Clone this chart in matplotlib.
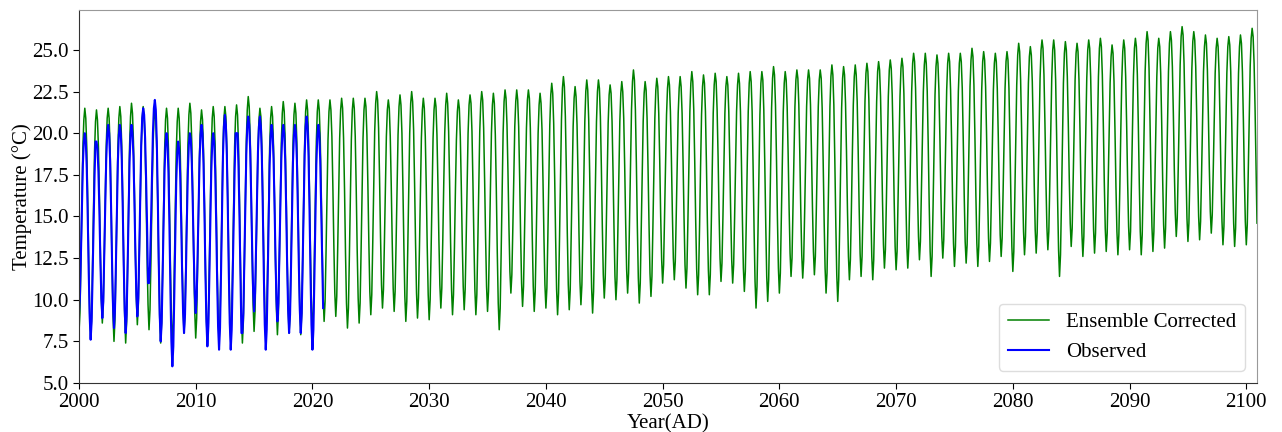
import numpy as np
import matplotlib
matplotlib.use("Agg")
import matplotlib.pyplot as plt

# Monthly mean temperature (degC), one row per year, Jan..Dec.
ensemble_2000s = [
    [8.0, 9.2, 12.3, 15.8, 19.1, 20.8, 21.5, 20.9, 19.2, 16.0, 12.3, 9.2],
    [7.7, 8.9, 12.1, 15.6, 18.9, 20.7, 21.4, 20.8, 19.2, 16.3, 12.8, 10.0],
    [8.6, 9.8, 12.7, 16.1, 19.2, 20.9, 21.5, 20.9, 19.1, 15.9, 12.1, 9.0],
    [7.5, 8.8, 12.0, 15.7, 19.1, 20.9, 21.6, 21.0, 19.2, 15.9, 12.1, 9.0],
    [7.4, 8.7, 12.0, 15.7, 19.2, 21.0, 21.8, 21.2, 19.5, 16.5, 12.9, 10.0],
    [8.5, 9.7, 12.7, 16.1, 19.2, 20.9, 21.6, 21.0, 19.3, 16.2, 12.6, 9.7],
    [8.2, 9.4, 12.4, 15.9, 19.0, 20.7, 21.4, 20.8, 19.0, 15.8, 12.0, 8.9],
    [7.4, 8.7, 11.9, 15.6, 18.9, 20.8, 21.5, 20.9, 19.0, 15.8, 12.0, 8.9],
    [7.3, 8.6, 11.8, 15.5, 18.9, 20.7, 21.5, 20.9, 19.2, 16.1, 12.4, 9.5],
    [8.0, 9.2, 12.4, 16.0, 19.3, 21.1, 21.8, 21.2, 19.4, 16.2, 12.4, 9.3],
]
ensemble_2010s = [
    [7.7, 8.9, 12.1, 15.6, 18.9, 20.7, 21.4, 20.8, 19.0, 15.8, 12.0, 8.9],
    [7.3, 8.6, 11.9, 15.6, 19.0, 20.9, 21.6, 21.0, 19.2, 16.0, 12.2, 9.1],
    [7.5, 8.8, 12.0, 15.7, 19.1, 20.9, 21.6, 21.0, 19.2, 16.0, 12.2, 9.1],
    [7.6, 8.9, 12.1, 15.8, 19.2, 21.0, 21.7, 21.1, 19.3, 16.0, 12.1, 9.0],
    [7.4, 8.7, 12.1, 16.0, 19.5, 21.4, 22.2, 21.6, 19.8, 16.5, 12.7, 9.7],
    [8.1, 9.3, 12.4, 15.9, 19.1, 20.8, 21.5, 21.0, 19.2, 16.0, 12.3, 9.3],
    [7.8, 9.0, 12.2, 15.8, 19.1, 20.9, 21.6, 21.0, 19.2, 16.1, 12.4, 9.4],
    [7.9, 9.2, 12.4, 16.0, 19.4, 21.2, 21.9, 21.3, 19.5, 16.3, 12.6, 9.5],
    [8.0, 9.2, 12.4, 16.0, 19.3, 21.1, 21.8, 21.2, 19.4, 16.2, 12.5, 9.4],
    [7.9, 9.2, 12.4, 16.1, 19.4, 21.3, 22.0, 21.4, 19.6, 16.4, 12.7, 9.6],
]
ensemble_2020s = [
    [8.1, 9.3, 12.5, 16.1, 19.5, 21.3, 22.0, 21.4, 19.7, 16.7, 13.1, 10.2],
    [8.7, 9.9, 12.9, 16.4, 19.6, 21.3, 22.0, 21.4, 19.8, 16.8, 13.3, 10.4],
    [9.0, 10.2, 13.2, 16.6, 19.7, 21.4, 22.1, 21.5, 19.7, 16.6, 12.8, 9.8],
    [8.3, 9.5, 12.7, 16.3, 19.6, 21.4, 22.1, 21.5, 19.8, 16.7, 13.0, 10.1],
    [8.6, 9.8, 12.9, 16.4, 19.7, 21.4, 22.1, 21.6, 19.9, 16.9, 13.4, 10.5],
    [9.1, 10.3, 13.4, 16.9, 20.1, 21.8, 22.5, 22.0, 20.3, 17.3, 13.8, 10.9],
    [9.5, 10.6, 13.5, 16.8, 19.8, 21.4, 22.0, 21.5, 19.8, 16.9, 13.5, 10.7],
    [9.3, 10.5, 13.4, 16.8, 19.9, 21.6, 22.3, 21.7, 20.0, 16.8, 13.2, 10.2],
    [8.7, 9.9, 13.1, 16.7, 20.0, 21.8, 22.5, 21.9, 20.2, 17.0, 13.4, 10.4],
    [8.9, 10.1, 13.1, 16.5, 19.7, 21.4, 22.1, 21.5, 19.8, 16.8, 13.2, 10.3],
]
ensemble_2030s = [
    [8.8, 10.0, 13.0, 16.5, 19.7, 21.4, 22.1, 21.6, 19.9, 17.0, 13.6, 10.9],
    [9.5, 10.7, 13.6, 17.0, 20.0, 21.7, 22.4, 21.8, 20.1, 17.1, 13.5, 10.6],
    [9.1, 10.3, 13.2, 16.6, 19.6, 21.3, 22.0, 21.5, 19.8, 16.9, 13.5, 10.8],
    [9.4, 10.6, 13.5, 16.9, 20.0, 21.7, 22.3, 21.8, 20.1, 17.0, 13.5, 10.6],
    [9.1, 10.3, 13.4, 16.9, 20.1, 21.8, 22.5, 22.0, 20.3, 17.2, 13.7, 10.8],
    [9.3, 10.5, 13.5, 16.9, 20.0, 21.7, 22.4, 21.8, 19.9, 16.7, 12.9, 9.8],
    [8.2, 9.5, 12.8, 16.6, 20.0, 21.9, 22.6, 22.1, 20.5, 17.7, 14.4, 11.7],
    [10.4, 11.5, 14.3, 17.5, 20.4, 21.9, 22.6, 22.0, 20.4, 17.4, 13.9, 11.0],
    [9.6, 10.8, 13.8, 17.1, 20.3, 22.0, 22.6, 22.1, 20.3, 17.3, 13.7, 10.8],
    [9.3, 10.5, 13.5, 16.9, 20.0, 21.7, 22.4, 21.8, 20.2, 17.2, 13.7, 10.9],
]
ensemble_2040s = [
    [9.5, 10.7, 13.8, 17.3, 20.5, 22.3, 23.0, 22.4, 20.6, 17.4, 13.7, 10.6],
    [9.1, 10.4, 13.7, 17.4, 20.8, 22.7, 23.4, 22.8, 21.0, 17.8, 14.0, 10.9],
    [9.4, 10.6, 13.7, 17.1, 20.4, 22.1, 22.8, 22.2, 20.5, 17.5, 14.0, 11.1],
    [9.7, 10.9, 14.0, 17.5, 20.7, 22.5, 23.2, 22.6, 20.8, 17.6, 13.8, 10.7],
    [9.2, 10.5, 13.7, 17.3, 20.7, 22.5, 23.2, 22.7, 21.0, 18.0, 14.4, 11.5],
    [10.1, 11.3, 14.2, 17.5, 20.6, 22.3, 22.9, 22.4, 20.7, 17.7, 14.3, 11.4],
    [10.0, 11.2, 14.2, 17.6, 20.7, 22.4, 23.1, 22.5, 20.9, 18.0, 14.6, 11.8],
    [10.4, 11.6, 14.7, 18.1, 21.4, 23.1, 23.8, 23.2, 21.4, 18.2, 14.4, 11.3],
    [9.8, 11.0, 14.1, 17.5, 20.7, 22.4, 23.1, 22.6, 20.9, 17.9, 14.5, 11.6],
    [10.2, 11.4, 14.4, 17.8, 20.9, 22.6, 23.3, 22.8, 21.2, 18.4, 15.0, 12.4],
]
ensemble_2050s = [
    [11.0, 12.1, 15.0, 18.2, 21.1, 22.7, 23.4, 22.9, 21.3, 18.5, 15.2, 12.5],
    [11.2, 12.3, 15.1, 18.3, 21.2, 22.7, 23.4, 22.8, 21.2, 18.3, 14.9, 12.1],
    [10.7, 11.9, 14.8, 18.2, 21.3, 23.0, 23.7, 23.1, 21.4, 18.3, 14.7, 11.8],
    [10.3, 11.5, 14.5, 18.0, 21.1, 22.8, 23.5, 23.0, 21.3, 18.2, 14.7, 11.8],
    [10.3, 11.5, 14.5, 18.0, 21.2, 22.9, 23.6, 23.1, 21.4, 18.6, 15.2, 12.5],
    [11.1, 12.2, 15.0, 18.2, 21.2, 22.8, 23.4, 22.9, 21.3, 18.4, 15.1, 12.4],
    [11.0, 12.1, 15.0, 18.3, 21.3, 22.9, 23.6, 23.0, 21.3, 18.3, 14.8, 11.9],
    [10.5, 11.7, 14.7, 18.2, 21.3, 23.0, 23.7, 23.1, 21.3, 18.0, 14.2, 11.1],
    [9.5, 10.8, 14.0, 17.7, 21.1, 23.0, 23.7, 23.2, 21.4, 18.2, 14.5, 11.4],
    [9.9, 11.2, 14.4, 18.1, 21.5, 23.3, 24.0, 23.5, 21.7, 18.6, 14.9, 11.9],
]
ensemble_2060s = [
    [10.4, 11.6, 14.7, 18.1, 21.3, 23.0, 23.7, 23.2, 21.6, 18.8, 15.5, 12.8],
    [11.4, 12.5, 15.4, 18.6, 21.6, 23.2, 23.8, 23.3, 21.7, 18.8, 15.4, 12.7],
    [11.3, 12.4, 15.3, 18.6, 21.6, 23.2, 23.8, 23.3, 21.7, 18.9, 15.6, 12.9],
    [11.5, 12.6, 15.4, 18.6, 21.6, 23.2, 23.8, 23.3, 21.5, 18.4, 14.8, 11.9],
    [10.4, 11.6, 14.8, 18.4, 21.6, 23.4, 24.1, 23.5, 21.7, 18.4, 14.6, 11.5],
    [9.9, 11.2, 14.4, 18.1, 21.5, 23.3, 24.0, 23.5, 21.8, 18.9, 15.4, 12.6],
    [11.2, 12.4, 15.3, 18.7, 21.7, 23.4, 24.1, 23.5, 21.9, 19.0, 15.6, 12.8],
    [11.4, 12.6, 15.5, 18.8, 21.9, 23.6, 24.2, 23.7, 22.0, 19.0, 15.5, 12.6],
    [11.2, 12.4, 15.4, 18.8, 21.9, 23.7, 24.3, 23.8, 22.2, 19.3, 16.0, 13.3],
    [11.9, 13.0, 15.9, 19.2, 22.2, 23.8, 24.4, 23.9, 22.3, 19.4, 16.0, 13.2],
]
ensemble_2070s = [
    [11.8, 12.9, 15.9, 19.2, 22.2, 23.9, 24.5, 24.0, 22.4, 19.5, 16.1, 13.3],
    [11.9, 13.1, 16.0, 19.4, 22.5, 24.2, 24.8, 24.3, 22.7, 19.8, 16.5, 13.8],
    [12.4, 13.5, 16.4, 19.6, 22.5, 24.1, 24.8, 24.2, 22.5, 19.4, 15.8, 12.9],
    [11.4, 12.6, 15.6, 19.1, 22.3, 24.0, 24.7, 24.2, 22.6, 19.8, 16.5, 13.8],
    [12.5, 13.6, 16.4, 19.6, 22.6, 24.2, 24.8, 24.3, 22.6, 19.7, 16.2, 13.4],
    [12.0, 13.2, 16.1, 19.4, 22.5, 24.2, 24.8, 24.3, 22.7, 19.7, 16.3, 13.5],
    [12.2, 13.3, 16.3, 19.7, 22.8, 24.4, 25.1, 24.6, 22.9, 19.9, 16.3, 13.4],
    [12.0, 13.2, 16.1, 19.5, 22.6, 24.3, 24.9, 24.4, 22.8, 19.9, 16.5, 13.7],
    [12.3, 13.4, 16.3, 19.6, 22.6, 24.2, 24.8, 24.3, 22.7, 19.9, 16.6, 13.9],
    [12.6, 13.7, 16.5, 19.7, 22.7, 24.3, 24.9, 24.4, 22.7, 19.6, 16.1, 13.2],
]
ensemble_2080s = [
    [11.7, 12.9, 16.1, 19.7, 22.9, 24.7, 25.4, 24.9, 23.2, 20.3, 16.9, 14.1],
    [12.7, 13.8, 16.7, 20.0, 23.0, 24.6, 25.2, 24.7, 23.1, 20.2, 16.9, 14.2],
    [12.8, 14.0, 16.9, 20.2, 23.3, 25.0, 25.6, 25.1, 23.5, 20.6, 17.2, 14.4],
    [13.0, 14.1, 17.0, 20.3, 23.3, 25.0, 25.6, 25.0, 23.2, 19.9, 16.1, 13.0],
    [11.4, 12.7, 15.9, 19.6, 23.0, 24.8, 25.5, 25.0, 23.4, 20.6, 17.3, 14.6],
    [13.2, 14.3, 17.1, 20.3, 23.2, 24.8, 25.4, 24.9, 23.2, 20.3, 16.8, 14.0],
    [12.6, 13.8, 16.8, 20.1, 23.3, 25.0, 25.6, 25.1, 23.4, 20.5, 17.0, 14.2],
    [12.8, 14.0, 16.9, 20.3, 23.4, 25.1, 25.7, 25.2, 23.5, 20.6, 17.1, 14.3],
    [12.9, 14.0, 16.9, 20.1, 23.0, 24.6, 25.3, 24.8, 23.1, 20.2, 16.8, 14.1],
    [12.7, 13.9, 16.8, 20.2, 23.2, 24.9, 25.6, 25.1, 23.4, 20.5, 17.1, 14.4],
]
ensemble_2090s = [
    [13.0, 14.1, 17.1, 20.4, 23.4, 25.1, 25.7, 25.2, 23.5, 20.5, 17.0, 14.1],
    [12.7, 13.9, 17.0, 20.5, 23.7, 25.4, 26.1, 25.6, 23.9, 20.8, 17.3, 14.4],
    [12.9, 14.1, 17.0, 20.3, 23.4, 25.1, 25.7, 25.2, 23.6, 20.7, 17.3, 14.5],
    [13.1, 14.3, 17.2, 20.6, 23.7, 25.4, 26.1, 25.6, 24.0, 21.2, 17.8, 15.2],
    [13.8, 14.9, 17.8, 21.1, 24.1, 25.8, 26.4, 25.9, 24.2, 21.2, 17.8, 14.9],
    [13.5, 14.6, 17.5, 20.8, 23.8, 25.5, 26.1, 25.6, 24.0, 21.1, 17.7, 15.0],
    [13.6, 14.7, 17.5, 20.7, 23.7, 25.2, 25.9, 25.4, 23.8, 21.1, 17.9, 15.3],
    [14.0, 15.1, 17.7, 20.8, 23.6, 25.1, 25.7, 25.2, 23.6, 20.7, 17.4, 14.7],
    [13.3, 14.4, 17.3, 20.6, 23.6, 25.2, 25.8, 25.3, 23.7, 20.8, 17.4, 14.6],
    [13.2, 14.3, 17.3, 20.5, 23.6, 25.2, 25.9, 25.4, 23.7, 20.8, 17.4, 14.7],
]
ensemble_2100 = [
    [13.3, 14.5, 17.5, 20.8, 24.0, 25.7, 26.3, 25.8, 24.2, 21.5, 18.0, 14.6],
]

observed_2000s = [
    [9.2, 10.2, 12.7, 15.5, 18.1, 19.5, 20.0, 19.5, 17.9, 15.0, 11.7, 9.0],
    [7.6, 8.7, 11.4, 14.5, 17.4, 19.5, 19.5, 19.1, 17.7, 15.3, 12.4, 10.1],
    [8.9, 9.9, 12.6, 15.6, 18.4, 19.9, 20.5, 20.0, 18.4, 15.6, 12.3, 9.6],
    [8.3, 9.4, 12.2, 15.4, 18.3, 19.9, 20.5, 20.0, 18.4, 15.5, 12.1, 9.4],
    [8.0, 9.1, 12.0, 15.3, 18.3, 19.9, 20.5, 20.0, 18.6, 15.9, 12.8, 10.3],
    [9.0, 10.1, 13.0, 16.3, 19.3, 20.9, 21.5, 21.1, 19.7, 17.3, 14.5, 11.0],
    [11.0, 12.0, 14.5, 17.4, 20.0, 21.5, 22.0, 21.4, 19.5, 16.2, 12.3, 9.1],
    [7.5, 8.6, 11.5, 14.8, 17.8, 19.4, 20.0, 19.4, 17.6, 14.4, 10.6, 7.5],
    [6.0, 7.2, 10.3, 13.8, 17.1, 18.8, 19.5, 19.0, 17.6, 14.9, 11.8, 9.3],
    [8.0, 9.1, 11.8, 15.0, 17.8, 19.4, 20.0, 19.6, 18.2, 15.7, 12.8, 10.4],
]
observed_2010s = [
    [9.2, 10.2, 12.8, 15.8, 18.5, 19.9, 20.5, 20.0, 18.2, 15.2, 11.6, 8.7],
    [7.2, 8.4, 11.3, 14.6, 17.7, 19.4, 20.0, 19.5, 17.8, 14.8, 11.3, 8.4],
    [7.0, 8.3, 11.5, 15.2, 18.6, 20.4, 21.1, 20.5, 18.7, 15.5, 11.7, 8.6],
    [7.0, 8.2, 11.2, 14.5, 17.7, 20.0, 20.0, 20.0, 18.0, 15.0, 11.5, 8.0],
    [8.0, 9.2, 12.2, 15.5, 18.7, 20.4, 21.0, 20.5, 19.0, 16.3, 13.2, 10.6],
    [9.3, 10.4, 13.0, 16.1, 18.9, 20.4, 21.0, 20.4, 18.6, 15.4, 11.6, 8.5],
    [7.0, 8.2, 11.3, 14.8, 18.1, 19.8, 20.5, 20.0, 18.5, 15.8, 12.6, 10.0],
    [8.7, 9.8, 12.5, 15.5, 18.4, 19.9, 20.5, 20.0, 18.4, 15.5, 12.1, 9.4],
    [8.0, 9.1, 12.0, 15.3, 18.3, 19.9, 20.5, 20.0, 18.4, 15.5, 12.1, 9.4],
    [8.0, 9.2, 12.2, 15.5, 18.7, 20.4, 21.0, 20.4, 18.6, 15.4, 11.6, 8.5],
]
observed_2020 = [
    [7.0, 8.2, 11.3, 14.8, 18.1, 19.8, 20.5, 20.0, 18.4, 15.6, 12.5, 9.5],
]

year_ticks = [2000, 2010, 2020, 2030, 2040, 2050, 2060, 2070, 2080, 2090, 2100]
temp_ticks = [5.0, 7.5, 10.0, 12.5, 15.0, 17.5, 20.0, 22.5, 25.0]

ensemble = np.concatenate([
    np.ravel(ensemble_2000s), np.ravel(ensemble_2010s), np.ravel(ensemble_2020s),
    np.ravel(ensemble_2030s), np.ravel(ensemble_2040s), np.ravel(ensemble_2050s),
    np.ravel(ensemble_2060s), np.ravel(ensemble_2070s), np.ravel(ensemble_2080s),
    np.ravel(ensemble_2090s), np.ravel(ensemble_2100),
])
observed = np.concatenate([
    np.ravel(observed_2000s), np.ravel(observed_2010s), np.ravel(observed_2020),
])

# Monthly time axis in decimal years, starting January 2000
t_ens = 2000 + np.arange(ensemble.size) / 12.0
t_obs = 2000 + np.arange(observed.size) / 12.0

plt.rcParams["font.family"] = ["Liberation Serif", "DejaVu Serif"]

fig = plt.figure(figsize=(12.82, 4.32), dpi=100)
ax = fig.add_axes([0.0616, 0.1134, 0.9189, 0.8635])

ax.plot(t_ens, ensemble, color="green", lw=1.1, label="Ensemble Corrected")
ax.plot(t_obs, observed, color="blue", lw=1.5, label="Observed")

ax.set_xlim(t_ens[0], t_ens[-1])
ax.set_ylim(5.0, 27.4)
ax.set_xticks(year_ticks)
ax.set_yticks(temp_ticks)
ax.set_yticklabels([f"{v:.1f}" for v in temp_ticks])
ax.tick_params(labelsize=15, length=4)

ax.set_xlabel("Year(AD)", fontsize=15, labelpad=1)
ax.set_ylabel("Temperature (°C)", fontsize=15, labelpad=0)

for side in ("top", "right"):
    ax.spines[side].set_color("#999999")
for side in ("left", "bottom"):
    ax.spines[side].set_color("#333333")

ax.legend(loc="lower right", fontsize=15, frameon=True, framealpha=1.0,
          edgecolor="#dddddd", borderaxespad=0.6)

fig.savefig("out.png", dpi=100)
